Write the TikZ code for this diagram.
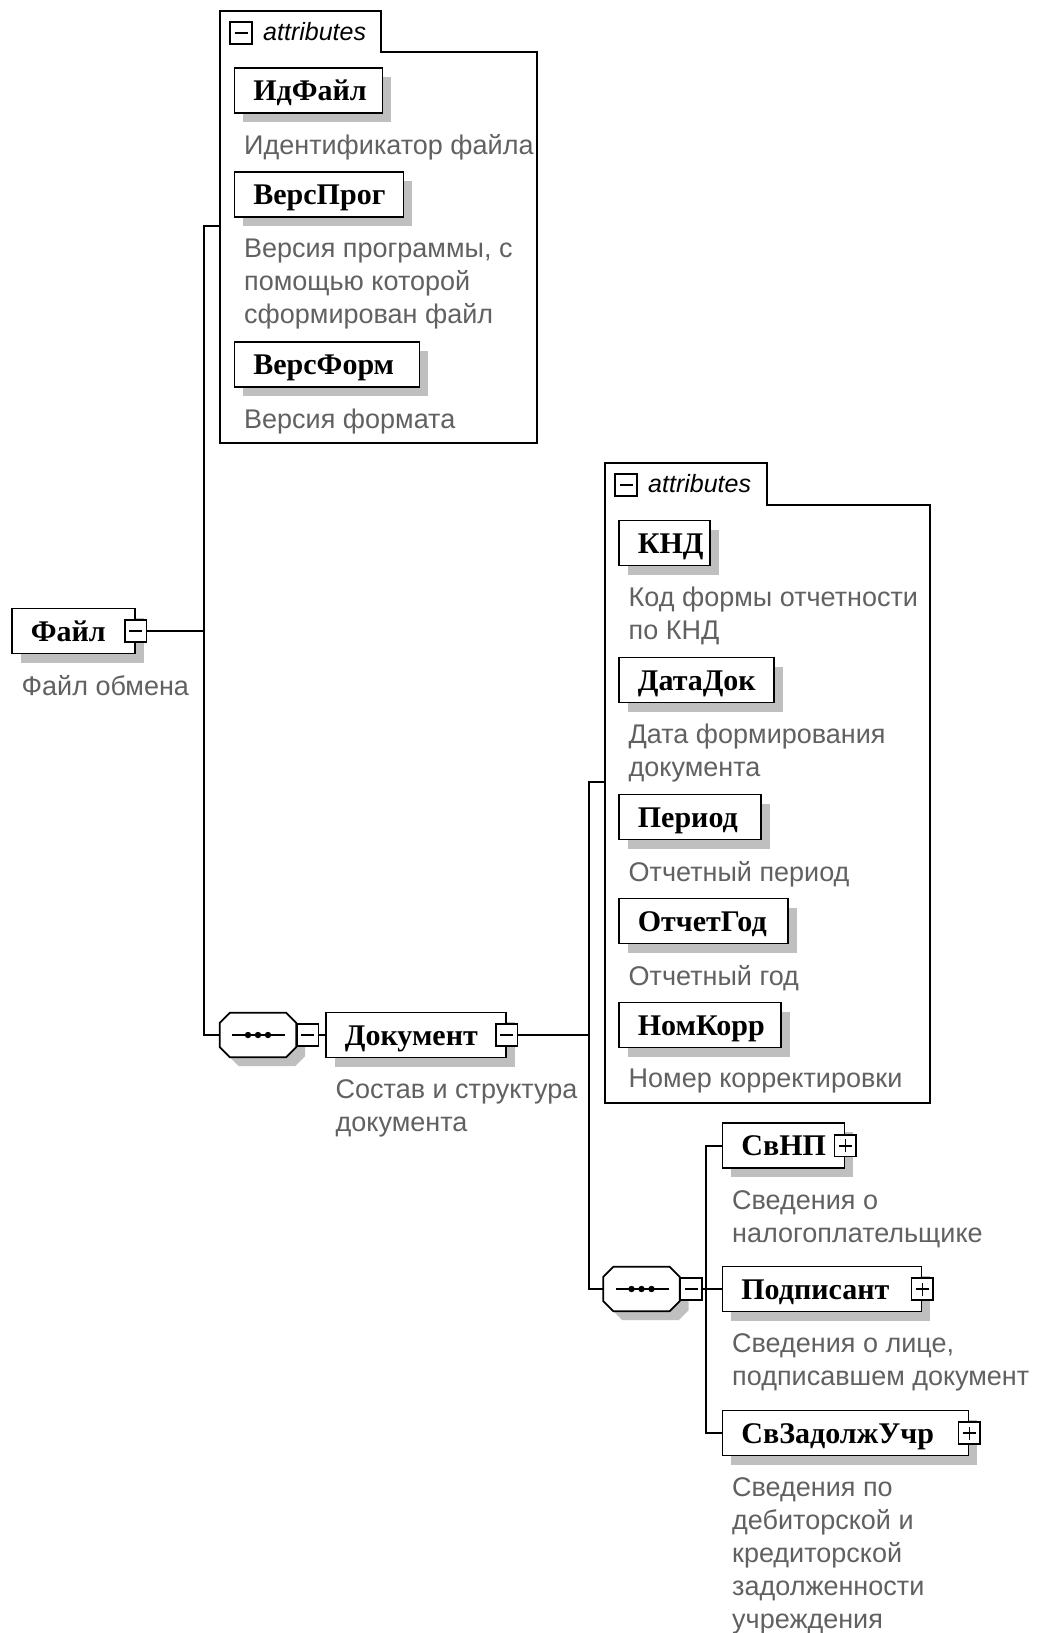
\documentclass[tikz,border=0pt]{standalone}
\usepackage{fontspec}
\setmainfont{Liberation Serif}
\setsansfont{Liberation Sans}

\tikzset{
    link/.style={line width=1.8pt, black},
    attrframe/.style={line width=1.8pt, black},
    octagon/.style={draw, line width=1.8pt, fill=white},
    boxshadow/.style={preaction={fill=black!25, transform canvas={shift={(9pt,-9pt)}}}},
    elem/.style={draw, line width=1.8pt, fill=white, boxshadow, anchor=west, inner xsep=19pt, inner ysep=0pt,
        align=left, minimum height=45pt, text height=26pt, text depth=6pt, font=\fontsize{30}{36}\selectfont\bfseries},
    note/.style={anchor=north west, inner sep=0pt, align=left, text=black!62,
        font=\sffamily\fontsize{27}{33}\selectfont},
    grouplabel/.style={anchor=base west, inner sep=0pt, font=\sffamily\itshape\fontsize{25}{28}\selectfont},
    iconbox/.style={draw, line width=1.6pt, fill=white, minimum size=21.5pt, inner sep=0pt},
    minusbox/.style={iconbox, path picture={
        \draw[line width=1.6pt] ([xshift=-6.5pt]path picture bounding box.center) -- ([xshift=6.5pt]path picture bounding box.center);}},
    plusbox/.style={iconbox, path picture={
        \draw[line width=1.6pt] ([xshift=-6.5pt]path picture bounding box.center) -- ([xshift=6.5pt]path picture bounding box.center)
            ([yshift=-6.5pt]path picture bounding box.center) -- ([yshift=6.5pt]path picture bounding box.center);}},
    seqbox/.style={rectangle, inner sep=0pt, minimum width=76pt, minimum height=44pt},
}

\begin{document}
\begin{tikzpicture}[x=1pt,y=-1pt]

\useasboundingbox[fill=white] (0,0) rectangle (1037,1633);

% attribute frames
\foreach \g/\xa/\ya/\xb/\yb/\xc/\yc in {A/220/11/381/52/537/443, B/605/463/767/505/930/1103}
{
    \draw[attrframe] (\xa,\ya) -- (\xb,\ya) -- (\xb,\yb) -- (\xc,\yb) -- (\xc,\yc) -- (\xa,\yc) -- cycle;
    \node[minusbox] (grp\g Minus) at (\xa+21,\ya+22) {};
    \node[grouplabel] (grp\g Label) at (\xa+43,\ya+29) {attributes};
}

\foreach \n/\x/\y/\w/\t in {idFile/233.5/90.5/148/ИдФайл, versProg/233.5/194.5/169/ВерсПрог,
    versForm/233.5/364.5/185/ВерсФорм, knd/618/543/91/КНД, dateDoc/618/680/155/ДатаДок,
    period/618/817/142/Период, repYear/618/921/169/ОтчетГод, numCorr/618/1025/162/НомКорр}
{
    \pgfmathsetmacro{\tw}{\w-38}
    \node[elem, text width=\tw pt] (\n) at (\x,\y) {\t};
}

\node[note] (idFileNote) at ([xshift=10.5pt,yshift=-44.2pt]idFile.west) {Идентификатор файла};
\node[note] (versProgNote) at ([xshift=10.5pt,yshift=-44.2pt]versProg.west) {Версия программы, с\\помощью которой\\сформирован файл};
\node[note] (versFormNote) at ([xshift=10.5pt,yshift=-44.2pt]versForm.west) {Версия формата};
\node[note] (kndNote) at ([xshift=10.5pt,yshift=-44.2pt]knd.west) {Код формы отчетности\\по КНД};
\node[note] (dateDocNote) at ([xshift=10.5pt,yshift=-44.2pt]dateDoc.west) {Дата формирования\\документа};
\node[note] (periodNote) at ([xshift=10.5pt,yshift=-44.2pt]period.west) {Отчетный период};
\node[note] (repYearNote) at ([xshift=10.5pt,yshift=-44.2pt]repYear.west) {Отчетный год};
\node[note] (numCorrNote) at ([xshift=10.5pt,yshift=-44.2pt]numCorr.west) {Номер корректировки};

% root
\node[elem, text width=85pt] (file) at (11,631) {Файл};
\node[minusbox] (fileMinus) at (file.east) {};
\node[note] (fileNote) at ([xshift=10.5pt,yshift=-44.2pt]file.west) {Файл обмена};

% sequences
\node[seqbox] (seqA) at (258,1035) {};
\node[seqbox] (seqB) at (641.5,1289) {};

\foreach \s in {seqA,seqB}
{
    \fill[black!25] ([xshift=19pt,yshift=-9pt]\s.north west) -- ([xshift=-1pt,yshift=-9pt]\s.north east)
        -- ([xshift=9pt,yshift=-19pt]\s.north east) -- ([xshift=9pt,yshift=1pt]\s.south east)
        -- ([xshift=-1pt,yshift=-9pt]\s.south east) -- ([xshift=19pt,yshift=-9pt]\s.south west)
        -- ([xshift=9pt,yshift=1pt]\s.south west) -- ([xshift=9pt,yshift=-19pt]\s.north west) -- cycle;
    \draw[octagon] ([xshift=10pt]\s.north west) -- ([xshift=-10pt]\s.north east) -- ([yshift=-10pt]\s.north east)
        -- ([yshift=10pt]\s.south east) -- ([xshift=-10pt]\s.south east) -- ([xshift=10pt]\s.south west)
        -- ([yshift=10pt]\s.south west) -- ([yshift=-10pt]\s.north west) -- cycle;
    \draw[link] ([xshift=-26pt]\s.center) -- ([xshift=27pt]\s.center);
    \foreach \d in {-10,0,10}
        \fill ([xshift=\d pt]\s.center) circle (3.2pt);
    \node[minusbox, anchor=west] (\s Minus) at (\s.east) {};
}

% document
\node[elem, text width=142pt] (doc) at (325,1035) {Документ};
\node[minusbox] (docMinus) at (doc.east) {};
\node[note] (docNote) at ([xshift=10.5pt,yshift=-44.2pt]doc.west) {Состав и структура\\документа};

\foreach \n/\y/\w/\t in {svnp/1145.8/122/СвНП, sign/1289/199/Подписант, debt/1433/246/СвЗадолжУчр}
{
    \pgfmathsetmacro{\tw}{\w-38}
    \node[elem, text width=\tw pt] (\n) at (721.5,\y) {\t};
    \node[plusbox] (\n Plus) at (\n.east) {};
}

\node[note] (svnpNote) at ([xshift=10.5pt,yshift=-44.2pt]svnp.west) {Сведения о\\налогоплательщике};
\node[note] (signNote) at ([xshift=10.5pt,yshift=-44.2pt]sign.west) {Сведения о лице,\\подписавшем документ};
\node[note] (debtNote) at ([xshift=10.5pt,yshift=-44.2pt]debt.west) {Сведения по\\дебиторской и\\кредиторской\\задолженности\\учреждения};

% tree lines
\coordinate (trunkA) at (204,631);
\coordinate (grpA) at (220,226);
\coordinate (trunkB) at (589,1035);
\coordinate (grpB) at (605,782);
\coordinate (branchB) at (706,1289);

\draw[link] (fileMinus.east) -- (trunkA);
\draw[link] (grpA) -| (trunkA) |- (seqA.west);
\draw[link] (seqAMinus.east) -- (doc.west);
\draw[link] (docMinus.east) -- (trunkB);
\draw[link] (grpB) -| (trunkB) |- (seqB.west);
\draw[link] (seqBMinus.east) -- (sign.west);
\draw[link] (svnp.west) -| (branchB) |- (debt.west);

\end{tikzpicture}
\end{document}
